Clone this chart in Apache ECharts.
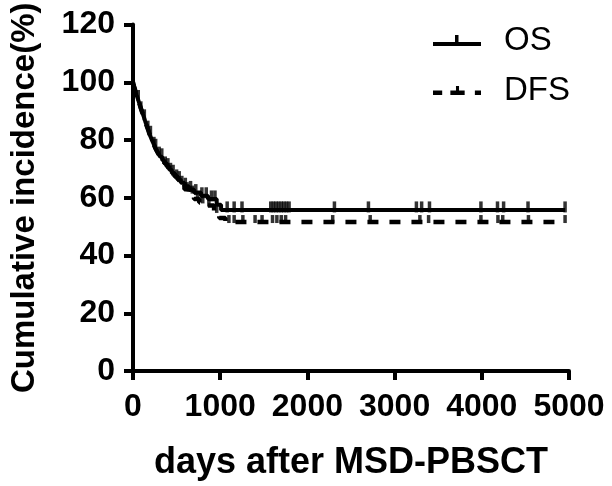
<!DOCTYPE html>
<html><head><meta charset="utf-8">
<script src="https://cdn.jsdelivr.net/npm/echarts@6/dist/echarts.min.js"></script>
<style>html,body{margin:0;padding:0;background:#fff}#c{width:612px;height:486px}</style>
</head><body><div id="c"></div>
<script>
// ---- data ----
const xTicks = [0, 1000, 2000, 3000, 4000, 5000];
const yTicks = [0, 20, 40, 60, 80, 100, 120];
const osDays = [0, 8, 20, 30, 42, 55, 66, 78, 90, 102, 115, 128, 140, 152, 165, 178, 190, 205, 220, 236, 252, 270, 290, 312, 335, 360, 388, 415, 445, 478, 512, 548, 590, 640, 700, 780, 860, 960, 1010, 4955];
const osValues = [100, 98.9, 97.8, 96.6, 95.5, 94.4, 93.3, 92.2, 91.0, 89.9, 88.8, 87.7, 86.5, 85.4, 84.3, 83.2, 82.0, 80.9, 79.8, 78.7, 77.5, 76.4, 75.3, 74.2, 73.0, 71.9, 70.8, 69.7, 68.5, 67.4, 66.3, 65.2, 64.0, 62.9, 61.8, 60.7, 59.6, 57.6, 55.8, 55.8];
const dfsDays = [0, 8, 20, 30, 42, 55, 66, 78, 90, 102, 115, 128, 140, 152, 165, 178, 190, 205, 220, 236, 252, 270, 290, 312, 335, 360, 388, 415, 445, 478, 512, 548, 590, 640, 700, 760, 840, 930, 990, 1060, 4955];
const dfsValues = [100, 98.9, 97.8, 96.6, 95.5, 94.4, 93.3, 92.2, 91.0, 89.9, 88.8, 87.7, 86.5, 85.4, 84.3, 83.2, 82.0, 80.9, 79.8, 78.7, 77.5, 76.4, 75.3, 74.2, 73.0, 71.9, 70.8, 69.7, 68.5, 67.4, 66.3, 65.2, 63.0, 61.8, 59.6, 58.4, 57.3, 55.1, 53.0, 51.6, 51.6];
const osCensored = [60, 130, 200, 260, 330, 400, 460, 530, 600, 660, 720, 790, 840, 900, 940, 1080, 1160, 1250, 1580, 1610, 1640, 1670, 1700, 1730, 1760, 1790, 2310, 2700, 3250, 3310, 3400, 3990, 4180, 4250, 4530, 4955];
const dfsCensored = [90, 170, 240, 300, 370, 430, 500, 560, 620, 680, 740, 800, 870, 960, 1100, 1160, 1260, 1400, 1480, 1600, 1650, 1700, 1750, 2290, 2720, 3290, 3390, 3990, 4185, 4240, 4535, 4955];
const seriesNames = ['OS', 'DFS'];
const xTitle = 'days after MSD-PBSCT';
const yTitle = 'Cumulative incidence(%)';

function stepValue(days, vals, t) {
  let v = vals[0];
  for (let i = 0; i < days.length; i++) { if (days[i] <= t) v = vals[i]; }
  return v;
}
const osLine = osDays.map((d, i) => [d, osValues[i]]);
const dfsLine = dfsDays.map((d, i) => [d, dfsValues[i]]);
const osCens = osCensored.map(d => [d, stepValue(osDays, osValues, d)]);
const dfsCens = dfsCensored.map(d => [d, stepValue(dfsDays, dfsValues, d)]);

const FONT = '"Liberation Sans", Arial, sans-serif';
const NARROW = '"Liberation Sans Narrow", "Liberation Sans", Arial, sans-serif';
const chart = echarts.init(document.getElementById('c'), null, {renderer: 'canvas'});
chart.setOption({
  animation: false,
  backgroundColor: '#fff',
  grid: {left: 128, right: 43, top: 21, bottom: 114, containLabel: false},
  legend: {
    orient: 'vertical', left: 428, top: 19, itemGap: 17,
    itemWidth: 48, itemHeight: 12,
    textStyle: {fontFamily: FONT, fontSize: 33, color: '#000', padding: [0, 0, 0, 18]},
    data: [
      {name: 'OS', icon: 'path://M0,7 L48,7 L48,11 L0,11 Z M22,0 L25.5,0 L25.5,7 L22,7 Z'},
      {name: 'DFS', icon: 'path://M0,7 L9,7 L9,11.5 L0,11.5 Z M17,7 L31,7 L31,11.5 L17,11.5 Z M22.5,2.5 L25.5,2.5 L25.5,7 L22.5,7 Z M41,7 L47,7 L47,11.5 L41,11.5 Z'}
    ]
  },
  xAxis: {
    type: 'value', min: 0, max: 5000, interval: 1000,
    axisLine: {show: true, onZero: false, lineStyle: {color: '#000', width: 4}},
    axisTick: {show: true, length: 9, lineStyle: {color: '#000', width: 4}},
    splitLine: {show: false},
    axisLabel: {color: '#000', fontFamily: NARROW, fontWeight: 'bold', fontSize: 32, margin: 20,
      formatter: v => xTicks.includes(v) ? String(v) : ''},
    name: xTitle, nameLocation: 'middle', nameGap: 74,
    nameTextStyle: {color: '#000', fontFamily: FONT, fontWeight: 'bold', fontSize: 36}
  },
  yAxis: {
    type: 'value', min: 0, max: 120, interval: 20,
    axisLine: {show: true, onZero: false, lineStyle: {color: '#000', width: 4}},
    axisTick: {show: true, length: 9, lineStyle: {color: '#000', width: 4}},
    splitLine: {show: false},
    axisLabel: {color: '#000', fontFamily: NARROW, fontWeight: 'bold', fontSize: 32, margin: 18,
      formatter: v => yTicks.includes(v) ? String(v) : ''},
    name: yTitle, nameLocation: 'middle', nameGap: 92, nameRotate: 90,
    nameTextStyle: {color: '#000', fontFamily: FONT, fontWeight: 'bold', fontSize: 33}
  },
  series: [
    {name: 'OS', type: 'line', step: 'end', data: osLine, showSymbol: false, symbol: 'none',
      lineStyle: {color: '#000', width: 4, type: 'solid'}, itemStyle: {color: '#000'}, z: 3},
    {name: 'DFS', type: 'line', step: 'end', data: dfsLine, showSymbol: false, symbol: 'none',
      lineStyle: {color: '#000', width: 4.5, type: [11, 11]}, itemStyle: {color: '#000'}, z: 3},
    {name: 'OS', type: 'scatter', data: osCens, symbol: 'rect', symbolSize: [3.5, 11], symbolOffset: [0, -3],
      itemStyle: {color: '#000'}, z: 4},
    {name: 'DFS', type: 'scatter', data: dfsCens, symbol: 'rect', symbolSize: [3.5, 8], symbolOffset: [0, -3],
      itemStyle: {color: '#000'}, z: 4}
  ]
});
</script></body></html>
